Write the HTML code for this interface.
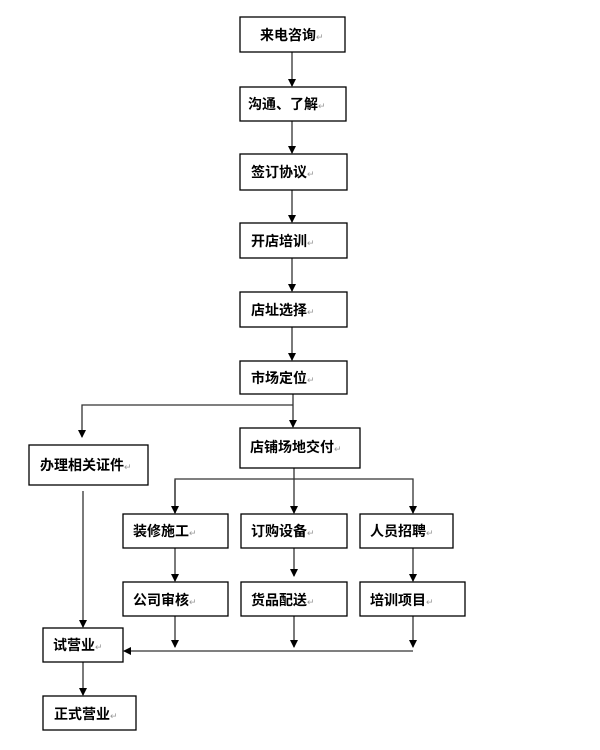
<!DOCTYPE html>
<html><head><meta charset="utf-8"><style>
html,body{margin:0;padding:0;background:#fff;width:600px;height:750px;overflow:hidden}
svg text{font-family:"Liberation Sans","Noto Sans CJK SC","WenQuanYi Zen Hei",sans-serif;font-weight:bold;font-size:14px;fill:#000}
.r{fill:#fff;stroke:#000;stroke-width:1.3}
.l{stroke:#333;stroke-width:1.3;fill:none}
.m{fill:#999;font-weight:normal;font-size:9px}
</style></head><body>
<svg width="600" height="750" xmlns="http://www.w3.org/2000/svg">
<defs><marker id="a" markerWidth="8" markerHeight="8" refX="7" refY="4" orient="auto" markerUnits="userSpaceOnUse"><path d="M0,0 L8,4 L0,8 z" fill="#000"/></marker></defs>
<!-- main vertical chain -->
<line class="l" x1="292" y1="52" x2="292" y2="86" marker-end="url(#a)"/>
<line class="l" x1="292" y1="121" x2="292" y2="153" marker-end="url(#a)"/>
<line class="l" x1="292" y1="190" x2="292" y2="222" marker-end="url(#a)"/>
<line class="l" x1="292" y1="258" x2="292" y2="291" marker-end="url(#a)"/>
<line class="l" x1="292" y1="327" x2="292" y2="360" marker-end="url(#a)"/>
<line class="l" x1="293" y1="394" x2="293" y2="427" marker-end="url(#a)"/>
<polyline class="l" points="293,405 82,405 82,437" marker-end="url(#a)"/>
<!-- branches -->
<line class="l" x1="294" y1="468" x2="294" y2="513" marker-end="url(#a)"/>
<polyline class="l" points="175,513 175,479 413,479 413,513" marker-end="url(#a)"/>
<line class="l" x1="175" y1="480" x2="175" y2="513" marker-end="url(#a)"/>
<line class="l" x1="175" y1="548" x2="175" y2="581" marker-end="url(#a)"/>
<line class="l" x1="294" y1="548" x2="294" y2="576" marker-end="url(#a)"/>
<line class="l" x1="413" y1="548" x2="413" y2="581" marker-end="url(#a)"/>
<line class="l" x1="175" y1="616" x2="175" y2="647" marker-end="url(#a)"/>
<line class="l" x1="294" y1="616" x2="294" y2="647" marker-end="url(#a)"/>
<line class="l" x1="413" y1="616" x2="413" y2="647" marker-end="url(#a)"/>
<line class="l" x1="413" y1="651" x2="124" y2="651" marker-end="url(#a)"/>
<line class="l" x1="83" y1="491" x2="83" y2="627" marker-end="url(#a)"/>
<line class="l" x1="83" y1="662" x2="83" y2="695" marker-end="url(#a)"/>
<!-- boxes -->
<rect class="r" x="240" y="17" width="105" height="35"/><text x="260" y="40">来电咨询<tspan class="m">↵</tspan></text>
<rect class="r" x="240" y="87" width="106" height="34"/><text x="248" y="109">沟通、了解<tspan class="m">↵</tspan></text>
<rect class="r" x="240" y="154" width="107" height="36"/><text x="251" y="177">签订协议<tspan class="m">↵</tspan></text>
<rect class="r" x="240" y="223" width="107" height="35"/><text x="251" y="246">开店培训<tspan class="m">↵</tspan></text>
<rect class="r" x="240" y="292" width="107" height="35"/><text x="251" y="315">店址选择<tspan class="m">↵</tspan></text>
<rect class="r" x="240" y="361" width="107" height="33"/><text x="251" y="383">市场定位<tspan class="m">↵</tspan></text>
<rect class="r" x="240" y="428" width="120" height="40"/><text x="250" y="452">店铺场地交付<tspan class="m">↵</tspan></text>
<rect class="r" x="29" y="445" width="119" height="40"/><text x="40" y="470">办理相关证件<tspan class="m">↵</tspan></text>
<rect class="r" x="123" y="514" width="105" height="34"/><text x="133" y="536">装修施工<tspan class="m">↵</tspan></text>
<rect class="r" x="241" y="514" width="106" height="34"/><text x="251" y="536">订购设备<tspan class="m">↵</tspan></text>
<rect class="r" x="360" y="514" width="93" height="34"/><text x="370" y="536">人员招聘<tspan class="m">↵</tspan></text>
<rect class="r" x="123" y="582" width="105" height="34"/><text x="133" y="605">公司审核<tspan class="m">↵</tspan></text>
<rect class="r" x="241" y="582" width="106" height="34"/><text x="251" y="605">货品配送<tspan class="m">↵</tspan></text>
<rect class="r" x="360" y="582" width="105" height="34"/><text x="370" y="605">培训项目<tspan class="m">↵</tspan></text>
<rect class="r" x="43" y="628" width="80" height="34"/><text x="53" y="650">试营业<tspan class="m">↵</tspan></text>
<rect class="r" x="43" y="696" width="93" height="34"/><text x="54" y="719">正式营业<tspan class="m">↵</tspan></text>
</svg>
</body></html>
